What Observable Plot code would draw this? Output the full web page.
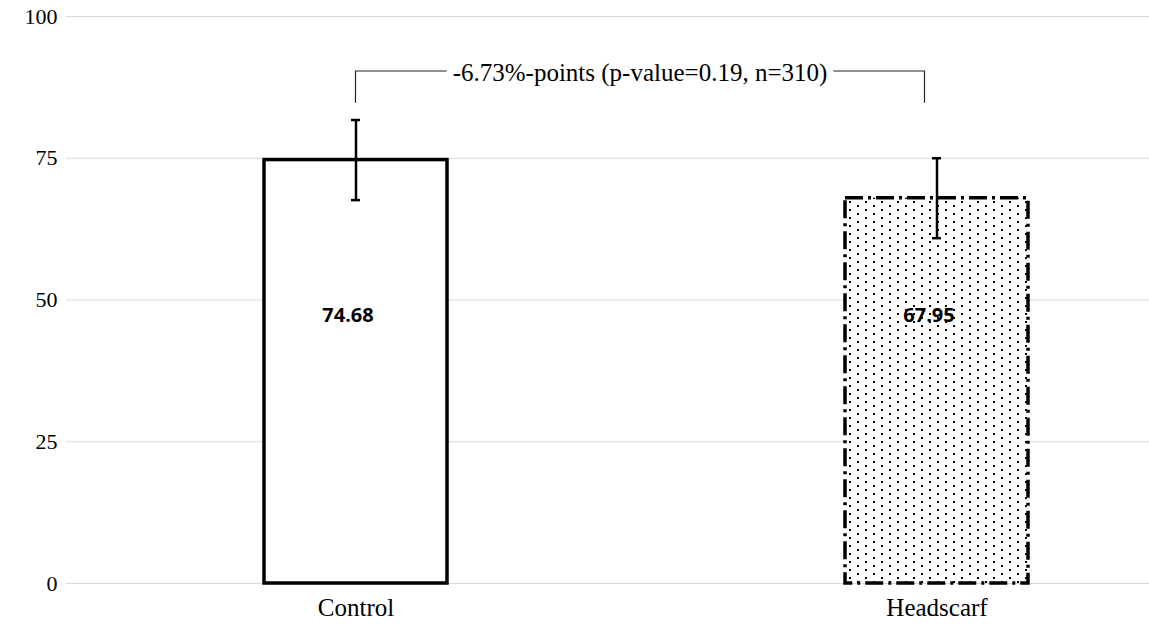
<!DOCTYPE html>
<html><head><meta charset="utf-8">
<script src="https://cdn.jsdelivr.net/npm/d3@7"></script>
<script src="https://cdn.jsdelivr.net/npm/@observablehq/plot@0.6"></script>
<style>
body{margin:0;background:#fff}
#chart svg text{font-family:"Liberation Serif","Tinos","Times New Roman",Times,"Nimbus Roman","FreeSerif","Noto Serif","DejaVu Serif",Georgia,serif}
#chart svg text.val{font-family:"Open Sans","Noto Sans",sans-serif}
</style>
</head><body><div id="chart"></div>
<script>
const categories = ["Control", "Headscarf"];
const values = [74.68, 67.95];
const ciHalf = [7.06, 7.05];
const yTicks = [0, 25, 50, 75, 100];
const diffLabel = "-6.73%-points (p-value=0.19, n=310)";
const bracketLow = 84.7;
const bracketHigh = 90.3;

const data = categories.map((c, i) => ({cat: c, value: values[i], lo: values[i] - ciHalf[i], hi: values[i] + ciHalf[i]}));

const chart = Plot.plot({
  width: 1149, height: 625,
  marginLeft: 66, marginRight: 0, marginTop: 16, marginBottom: 42,
  style: {fontSize: "22px", background: "white", color: "black", overflow: "visible"},
  x: {domain: categories, range: [65.5, 1227.5], paddingInner: 0.685, paddingOuter: 0.3425, label: null, tickSize: 0, tickPadding: 15},
  y: {domain: [0, 100], ticks: yTicks, label: null, tickSize: 0, tickPadding: 9},
  marks: [
    Plot.ruleY(yTicks, {stroke: "#d9d9d9", strokeWidth: 1.2}),
    Plot.barY(data.filter(d => d.cat === "Control"), {x: "cat", y: "value", fill: "white", stroke: "black", strokeWidth: 3.5}),
    Plot.barY(data.filter(d => d.cat === "Headscarf"), {x: "cat", y: "value", fill: "url(#dots)", stroke: "black", strokeWidth: 3.5, strokeDasharray: "18,5,3,5"}),
    Plot.ruleX(data, {x: "cat", y1: "lo", y2: "hi", stroke: "black", strokeWidth: 2.5}),
    Plot.tickY(data, {x: "cat", y: "hi", stroke: "black", strokeWidth: 2.5, insetLeft: 87, insetRight: 87}),
    Plot.tickY(data, {x: "cat", y: "lo", stroke: "black", strokeWidth: 2.5, insetLeft: 87, insetRight: 87}),
    Plot.text(data, {x: "cat", y: () => 47.2, text: d => d.value.toFixed(2), fontWeight: "bold", fontSize: 20, dx: -8})
  ]
});

document.getElementById("chart").appendChild(chart);

const svg = d3.select(chart);
svg.selectAll("g[aria-label='text'] text").classed("val", true);
svg.selectAll("g[aria-label='x-axis tick label'] text, g[aria-label='x-axis'] text").attr("font-size", 25);
const defs = svg.insert("defs", ":first-child");
const pat = defs.append("pattern").attr("id", "dots").attr("patternUnits", "userSpaceOnUse").attr("width", 16).attr("height", 8);
pat.append("rect").attr("width", 16).attr("height", 8).attr("fill", "white");
pat.append("rect").attr("x", 1).attr("y", 1).attr("width", 2).attr("height", 2).attr("fill", "black");
pat.append("rect").attr("x", 9).attr("y", 5).attr("width", 2).attr("height", 2).attr("fill", "black");

// bracket annotation drawn through the chart's scales
const xs = chart.scale("x"), ys = chart.scale("y");
const xL = xs.apply(categories[0]) + xs.bandwidth / 2;
const xR = xs.apply(categories[1]) + xs.bandwidth / 2 - 12;
const yLo = ys.apply(bracketLow), yHi = ys.apply(bracketHigh);
const g = svg.append("g");
const t = g.append("text").attr("x", (xL + xR) / 2).attr("y", yHi).attr("dy", "0.42em")
  .attr("text-anchor", "middle").attr("font-size", 25).attr("fill", "black").text(diffLabel);
const bb = t.node().getBBox();
g.append("path").attr("fill", "none").attr("stroke", "#222").attr("stroke-width", 1.2)
  .attr("d", `M${xL},${yLo}V${yHi}H${bb.x - 6}M${bb.x + bb.width + 6},${yHi}H${xR}V${yLo}`);
</script>
</body></html>
